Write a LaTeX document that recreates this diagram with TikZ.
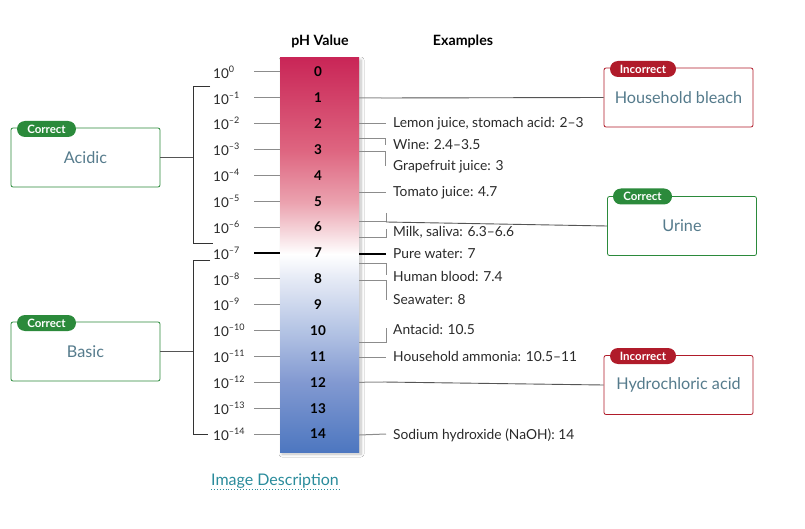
\documentclass[tikz,border=0pt]{standalone}
\usepackage{fontspec}
\setmainfont{Lato}
\usetikzlibrary{shadows.blur}
\definecolor{phR4}{HTML}{C92657}
\definecolor{phR3}{HTML}{DE6580}
\definecolor{phR2}{HTML}{EBA2AF}
\definecolor{phR1}{HTML}{F4D0D6}
\definecolor{phB1}{HTML}{E4E9F5}
\definecolor{phB2}{HTML}{B3C3E4}
\definecolor{phB3}{HTML}{8299D1}
\definecolor{phB4}{HTML}{4D77C0}
\definecolor{okgreen}{HTML}{2B8A3B}
\definecolor{badred}{HTML}{B01B2A}
\definecolor{slatetxt}{HTML}{557B8C}
\definecolor{tealtxt}{HTML}{2A8C9C}
\definecolor{tickgray}{HTML}{8C8C8C}
\definecolor{linegray}{HTML}{555555}
\definecolor{txtdark}{HTML}{2A2A2A}
\pgfdeclareverticalshading{phbar}{100bp}{color(0bp)=(phB4); color(25bp)=(phB4); color(33.9bp)=(phB3); color(40.3bp)=(phB2); color(46.8bp)=(phB1); color(50.1bp)=(white); color(53.4bp)=(phR1); color(56.7bp)=(phR2); color(63.3bp)=(phR3); color(75bp)=(phR4); color(100bp)=(phR4)}
\begin{document}
\begin{tikzpicture}[x=1pt,y=-1pt,
  tick/.style={draw=tickgray,line width=1pt},
  link/.style={draw=linegray,line width=0.9pt},
  expo/.style={anchor=west,inner sep=0pt,text=txtdark,font=\fontsize{13.5}{15}\selectfont},
  phnum/.style={inner sep=0pt,text=black,font=\fontsize{13.5}{15}\selectfont\bfseries},
  extxt/.style={anchor=west,inner sep=0pt,text=txtdark,font=\fontsize{13.8}{15}\selectfont},
  head/.style={inner sep=0pt,text=black,font=\fontsize{14.2}{16}\selectfont\bfseries},
  ansbox/.style={draw,line width=0.8pt,rounded corners=2pt,minimum width=149pt,minimum height=59pt,inner sep=0pt,text=slatetxt,font=\fontsize{16.2}{18}\selectfont},
  okbox/.style={ansbox,draw=okgreen},
  badbox/.style={ansbox,draw=badred},
  badge/.style={rounded corners=8pt,minimum height=16pt,inner sep=0pt,text=white,font=\fontsize{11.5}{12}\selectfont\bfseries},
  okbadge/.style={badge,fill=okgreen,minimum width=59pt},
  badbadge/.style={badge,fill=badred,minimum width=66pt},
  bracket/.style={draw=black!80,line width=1pt}
]
\useasboundingbox[fill=white] (0,0) rectangle (805,529);

% headers
\node[head] (hph) at (320,41) {pH Value};
\node[head] (hex) at (463,41) {Examples};

% bar
\node[minimum width=79pt,minimum height=394pt,inner sep=0pt,shading=phbar,
  blur shadow={shadow xshift=2pt,shadow yshift=-2pt,shadow blur steps=8,shadow blur radius=3pt,shadow opacity=25}] (bar) at (319.5,255) {};

% levels
\foreach \i/\lab in {0/0,1/{–1},2/{–2},3/{–3},4/{–4},5/{–5},6/{–6},7/{–7},8/{–8},9/{–9},10/{–10},11/{–11},12/{–12},13/{–13},14/{–14}}{
  \pgfmathsetmacro{\yy}{72+25.86*\i}
  \node[phnum] (n\i) at (318,\yy) {\i};
  \node[expo] (e\i) at (213,\yy) {10\raisebox{0.45em}{\fontsize{9}{10}\selectfont\lab}};
  \coordinate (t\i) at (254,\yy);
  \ifnum\i=7
    \draw[draw=black,line width=1.6pt] (t\i) -- (bar.west |- t\i);
  \else
    \draw[tick] (t\i) -- (bar.west |- t\i);
  \fi
}

% brackets on the left
\coordinate (a1) at (210,87);
\coordinate (a2) at (213,244);
\coordinate (b1) at (210,260);
\coordinate (b2) at (208,434);
\draw[bracket] (a1) -- (193,87) -- (193,244) -- (a2);
\draw[bracket] (b1) -- (193,260) -- (193,434) -- (b2);

% left answer boxes
\node[okbox] (acidic) at (85.5,157.5) {Acidic};
\node[okbadge] (acidicB) at (46.5,129) {Correct};
\node[okbox] (basic) at (85.5,351.5) {Basic};
\node[okbadge] (basicB) at (46.5,323) {Correct};
\draw[link] (acidic.east) -- (193,157.5);
\draw[link] (basic.east) -- (193,351.5);

% right answer boxes
\node[badbox] (bleach) at (678.5,97.5) {Household bleach};
\node[badbadge] (bleachB) at (643,69) {Incorrect};
\node[okbox] (urine) at (682,226) {Urine};
\node[okbadge] (urineB) at (642.5,196.5) {Correct};
\node[badbox] (hcl) at (678.5,385) {Hydrochloric acid};
\node[badbadge] (hclB) at (643,356) {Incorrect};

% examples text
\node[extxt] (x1) at (393,124) {Lemon juice, stomach acid: 2–3};
\node[extxt] (x2) at (393,145) {Wine: 2.4–3.5};
\node[extxt] (x3) at (393,167) {Grapefruit juice: 3};
\node[extxt] (x4) at (393,193) {Tomato juice: 4.7};
\node[extxt] (x5) at (393,232) {Milk, saliva: 6.3–6.6};
\node[extxt] (x6) at (393,254) {Pure water: 7};
\node[extxt] (x7) at (393,276) {Human blood: 7.4};
\node[extxt] (x8) at (393,300) {Seawater: 8};
\node[extxt] (x9) at (393,329) {Antacid: 10.5};
\node[extxt] (x10) at (393,356) {Household ammonia: 10.5–11};
\node[extxt] (x11) at (393,435) {Sodium hydroxide (NaOH): 14};

% example connectors
\draw[tick] (bar.east |- x1) -- (386,124);
\draw[tick] (bar.east |- 0,139) -- (385,139) -- (385,145);
\draw[tick] (bar.east |- 0,152) -- (385,152) -- (385,166);
\draw[tick] (bar.east |- x4) -- (386,193);
\draw[tick] (bar.east |- 0,238) -- (386,238) -- (386,229);
\draw[draw=black,line width=1.6pt] (bar.east |- x6) -- (386,254);
\draw[tick] (bar.east |- 0,263) -- (386,263) -- (386,275);
\draw[tick] (bar.east |- 0,280) -- (386,280) -- (386,300);
\draw[tick] (bar.east |- 0,342) -- (386,342) -- (386,328);
\draw[tick] (bar.east |- 0,357) -- (386,357);
\draw[tick] (bar.east |- x11) -- (386,434);

% answer connectors
\draw[tick] (bar.east |- n1) -- (381,98);
\draw[link] (381,98) -- (bleach.west);
\draw[tick] (bar.east |- 0,222) -- (386,222);
\draw[tick] (386,213) -- (386,222);
\draw[link] (386,222) -- (urine.west);
\draw[tick] (bar.east |- n12) -- (383,382);
\draw[link] (383,382) -- (hcl.west);

% image description link
\node[inner sep=0pt,anchor=west,text=tealtxt,font=\fontsize{16}{18}\selectfont] (desc) at (211,481) {Image Description};
\draw[tealtxt,line width=0.9pt,dotted] (desc.south west |- 0,489) -- (desc.south east |- 0,489);
\end{tikzpicture}
\end{document}
